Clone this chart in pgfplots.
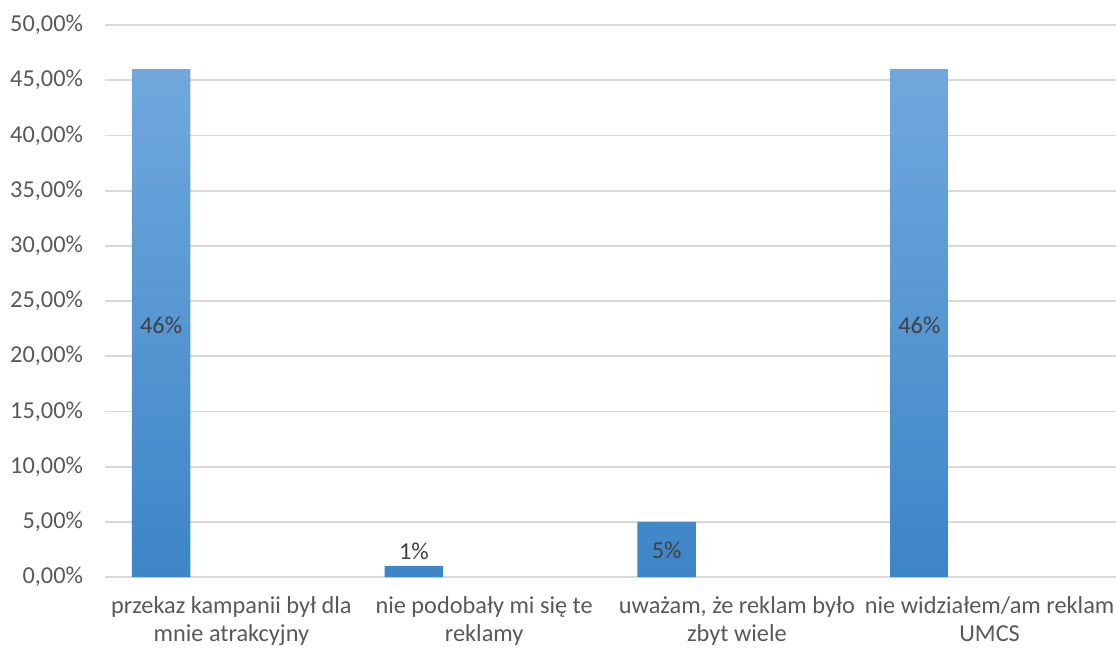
\documentclass[border=0pt]{standalone}
\usepackage{pgfplots}
\pgfplotsset{compat=1.18}
\usepackage{pgfplotstable}
\usepackage{fontspec}
\setmainfont{Carlito}

\definecolor{txt}{RGB}{89,89,89}
\definecolor{lbl}{RGB}{64,64,64}
\definecolor{gridc}{RGB}{217,217,217}
\definecolor{bartop}{RGB}{112,168,221}
\definecolor{barbot}{RGB}{61,133,199}

% bar heights (percent); each bar sits in the left part of its category slot
\pgfplotstableread{
x      y
-0.278 46
0.722  1
1.722  5
2.722  46
}\barsdata

% value labels: x, label anchor height, value shown
\pgfplotstableread{
x      y     v
-0.278 22.8  46
0.722  2.35  1
1.722  2.45  5
2.722  22.8  46
}\labeldata

\begin{document}
\begin{tikzpicture}
\begin{axis}[
  at={(52.5bp,35.5bp)}, anchor=south west,
  scale only axis,
  width=505.5bp, height=276bp,
  xmin=-0.5, xmax=3.5,
  ymin=0, ymax=50,
  ytick={0,5,...,50},
  xtick={0,1,2,3},
  xticklabels={
    {przekaz kampanii był dla\\mnie atrakcyjny},
    {nie podobały mi się te\\reklamy},
    {uważam, że reklam było\\zbyt wiele},
    {nie widziałem/am reklam\\UMCS}},
  axis line style={draw=none},
  major tick length=0pt,
  ymajorgrids,
  major grid style={draw=gridc, line width=0.9bp},
  /pgf/number format/assume math mode=true,
  yticklabel={\pgfmathprintnumber[fixed,fixed zerofill,precision=2,use comma]{\tick}\%},
  yticklabel style={font=\fontsize{12.2}{14}\selectfont, text=txt, xshift=-7.5bp},
  xticklabel style={font=\fontsize{12.2}{14.2}\selectfont, text=txt, align=center, yshift=-6.3bp},
  bar width=0.2315,
  clip=false,
]
\addplot[ybar, bar shift=0pt, draw=none, top color=bartop, bottom color=barbot]
  table[x=x, y=y] {\barsdata};
\addplot[draw=none, mark=none,
  point meta=explicit,
  nodes near coords={\pgfmathprintnumber{\pgfplotspointmeta}\%},
  nodes near coords align=center,
  every node near coord/.append style={font=\fontsize{12.2}{14}\selectfont, text=lbl, anchor=center}]
  table[x=x, y=y, meta=v] {\labeldata};
\end{axis}
\pgfresetboundingbox
\path[use as bounding box] (0,0) rectangle (558bp,324bp);
\end{tikzpicture}
\end{document}
